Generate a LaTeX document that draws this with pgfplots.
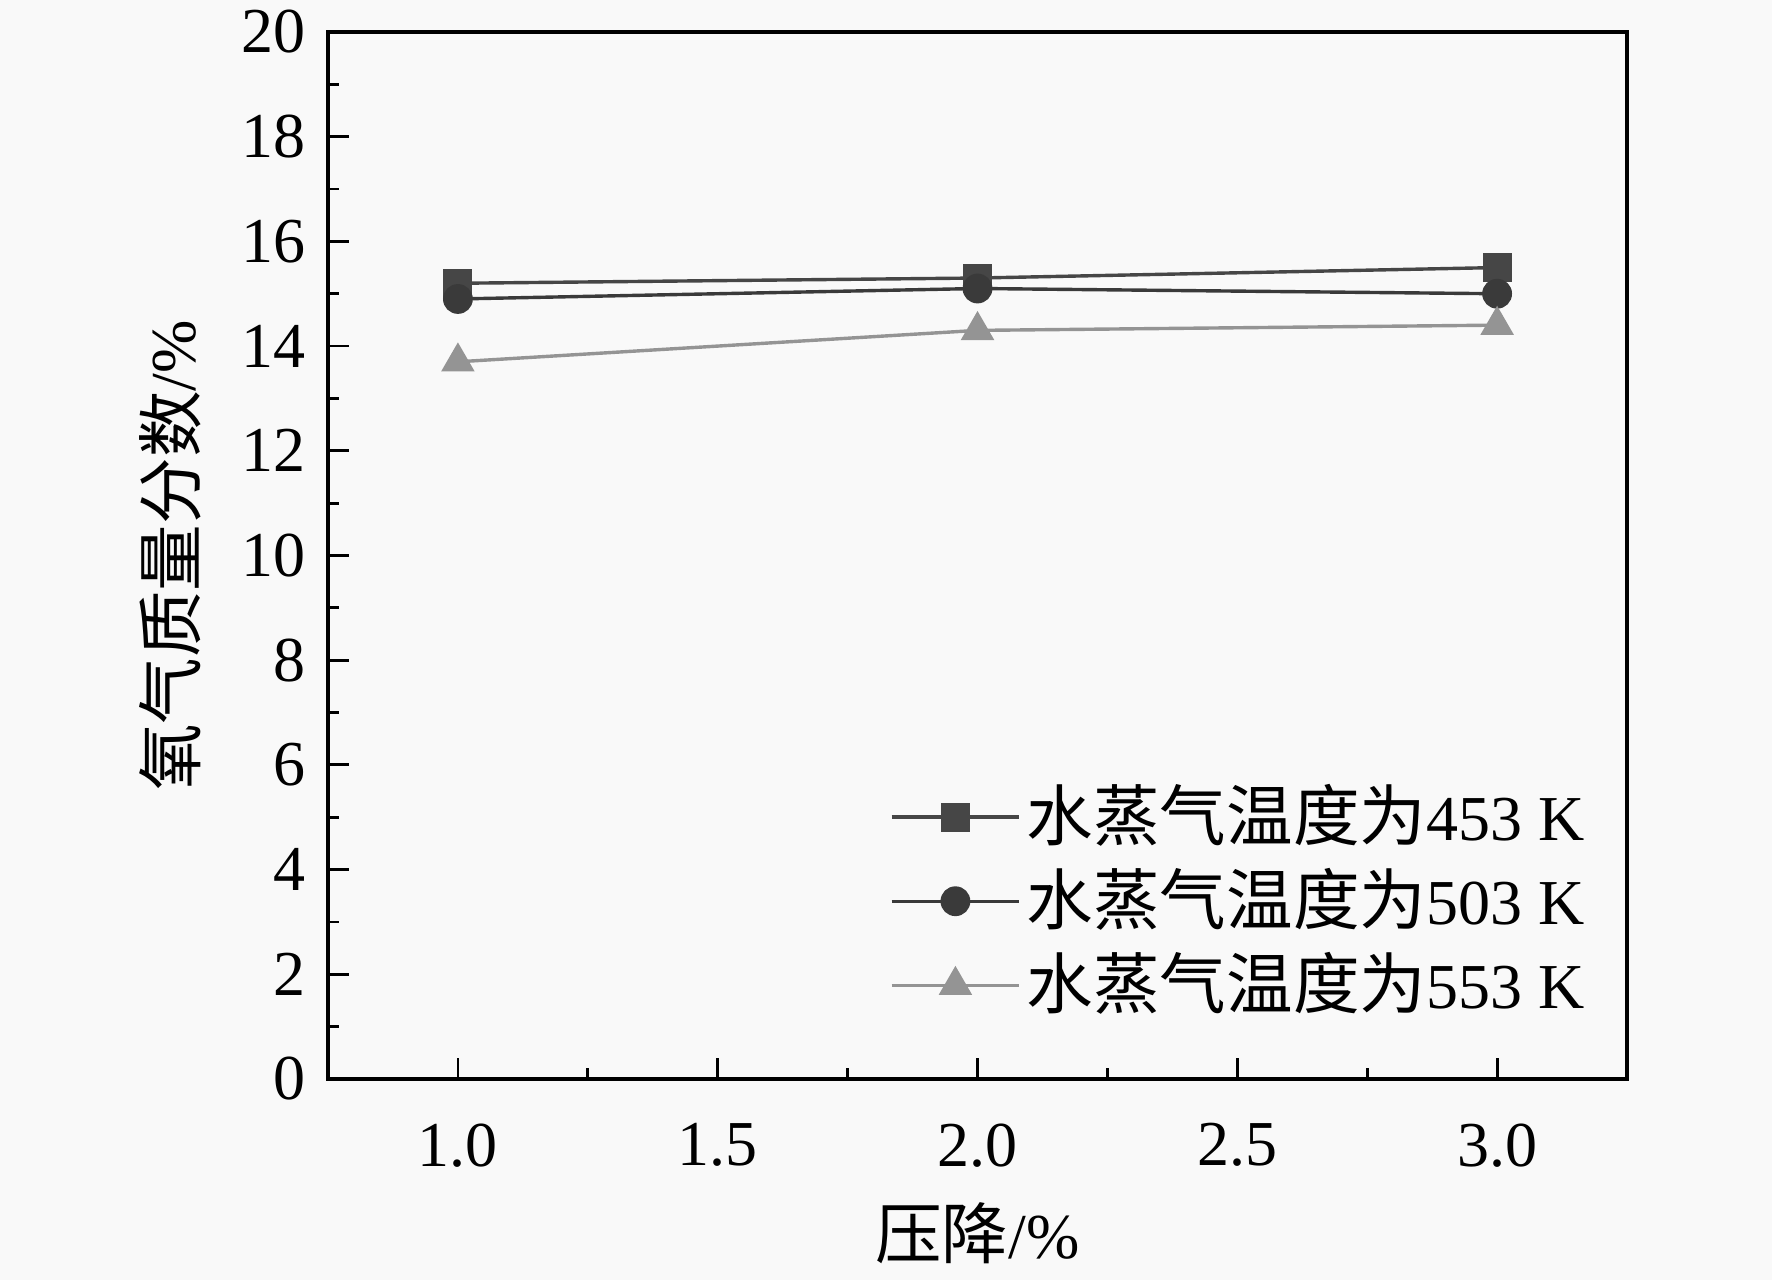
\documentclass[border=0pt]{standalone}
\usepackage{pgfplots}
\pgfplotsset{compat=1.18}
\usepackage{fontspec}
\setmainfont{Liberation Serif}
\newfontfamily\cjk[Scale=1.04]{Noto Sans CJK SC}
\definecolor{bgc}{RGB}{249,249,249}
\definecolor{cA}{RGB}{70,70,70}
\definecolor{cB}{RGB}{58,58,58}
\definecolor{cC}{RGB}{148,148,148}
\begin{document}
\fontsize{16}{19}\selectfont
\begin{tikzpicture}
\path[use as bounding box, fill=bgc] (0,0) rectangle (443pt,320pt);
\begin{axis}[
  at={(82pt,50.25pt)}, anchor=south west,
  scale only axis, width=324.75pt, height=261.75pt,
  xmin=0.75, xmax=3.25, ymin=0, ymax=20,
  xtick={1,1.5,2,2.5,3}, minor x tick num=1,
  ytick={0,2,...,20}, minor y tick num=1,
  tick align=inside, tick pos=left,
  major tick length=5.3pt, minor tick length=2.7pt,
  every tick/.style={line width=0.7pt, black},
  axis line style={line width=0.9pt},
  /pgf/number format/assume math mode=true,
  xticklabel style={/pgf/number format/.cd, fixed, fixed zerofill, precision=1},
  xticklabel shift=5.6pt,
  yticklabel style={/pgf/number format/.cd, fixed, precision=0},
  tick label style={font=\fontsize{16}{19}\selectfont},
  xlabel={{\cjk 压降}/\%},
  ylabel={{\cjk 氧气质量分数}/\%},
  xlabel style={at={(axis description cs:0.5,-0.147)}, anchor=center},
  ylabel style={at={(axis description cs:-0.1216,0.5)}, anchor=center},
  label style={font=\fontsize{16}{19}\selectfont},
  clip=false,
  legend cell align=left,
  legend style={draw=none, fill=none, at={(axis description cs:0.432,0.288)}, anchor=north west,
    font=\fontsize{16}{19}\selectfont, inner sep=0pt, row sep=1.55pt,
    nodes={inner sep=1.5pt}},
  legend image code/.code={\draw[mark repeat=2, mark phase=2] plot coordinates {(0cm,0cm)(0.56cm,0cm)(1.12cm,0cm)};},
]
\addplot[color=cA, line width=0.85pt, mark=square*, mark size=3.2pt, mark options={fill=cA, draw=cA}]
  coordinates {(1,15.2) (2,15.3) (3,15.5)};
\addlegendentry{{\cjk 水蒸气温度为}453 K}
\addplot[color=cB, line width=0.85pt, mark=*, mark size=3.3pt, mark options={fill=cB, draw=cB}]
  coordinates {(1,14.9) (2,15.1) (3,15.0)};
\addlegendentry{{\cjk 水蒸气温度为}503 K}
\addplot[color=cC, line width=0.85pt, mark=triangle*, mark size=4pt, mark options={fill=cC, draw=cC}]
  coordinates {(1,13.7) (2,14.3) (3,14.4)};
\addlegendentry{{\cjk 水蒸气温度为}553 K}
\end{axis}
\end{tikzpicture}
\end{document}
